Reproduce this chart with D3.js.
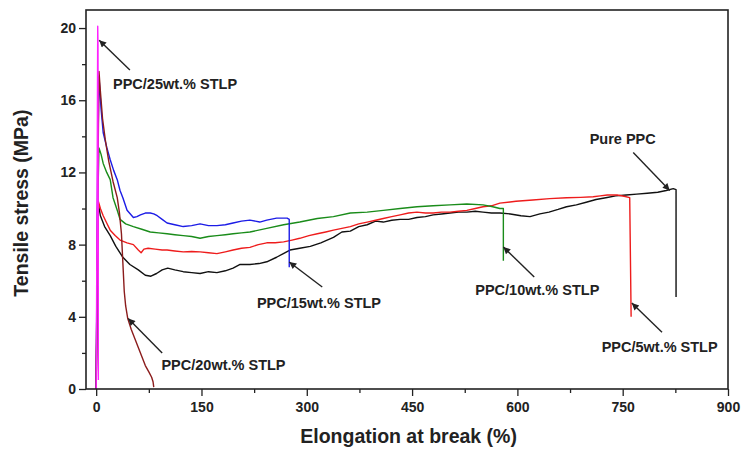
<!DOCTYPE html>
<html>
<head>
<meta charset="utf-8">
<script src="https://cdn.jsdelivr.net/npm/d3@7"></script>
<style>
  body { margin: 0; background: #fff; }
  svg text { font-family: "Liberation Sans", Arial, sans-serif; font-weight: bold; fill: #222; }
</style>
</head>
<body>
<svg id="svg" width="742" height="455"></svg>
<script>
// stress-strain curves, [elongation %, stress MPa]
const purePPC = [[0,0],[3,10.3],[6,9.6],[12,9.0],[20,8.5],[28,7.9],[38,7.3],[48,6.9],[60,6.6],[70,6.3],[78,6.25],[86,6.4],[94,6.6],[102,6.7],[112,6.6],[124,6.5],[136,6.45],[148,6.4],[160,6.5],[172,6.45],[184,6.55],[195,6.7],[205,6.9],[219,6.9],[232,6.95],[243,7.05],[257,7.3],[276,7.7],[290,7.8],[305,7.9],[320,8.1],[338,8.4],[350,8.7],[362,8.75],[374,9.0],[386,9.1],[398,9.3],[409,9.25],[421,9.35],[433,9.4],[445,9.4],[457,9.5],[469,9.55],[480,9.65],[492,9.7],[504,9.75],[516,9.8],[528,9.8],[540,9.85],[551,9.8],[563,9.75],[575,9.75],[590,9.7],[605,9.6],[618,9.55],[632,9.7],[645,9.8],[658,9.95],[670,10.1],[684,10.2],[698,10.35],[712,10.5],[726,10.6],[740,10.7],[755,10.75],[770,10.8],[785,10.85],[800,10.9],[812,11.0],[822,11.1],[826,11.05],[826,5.1]];
const stlp5 = [[0,0],[3,10.4],[6,10.0],[10,9.6],[15,9.2],[20,8.8],[27,8.5],[34,8.25],[44,8.1],[53,8.0],[60,7.7],[64,7.55],[68,7.75],[74,7.8],[84,7.75],[94,7.7],[101,7.7],[112,7.65],[124,7.6],[136,7.62],[148,7.6],[160,7.55],[172,7.5],[184,7.6],[195,7.7],[207,7.8],[219,7.85],[231,8.0],[243,8.1],[255,8.1],[267,8.15],[279,8.25],[290,8.35],[303,8.5],[315,8.6],[327,8.7],[338,8.8],[350,8.9],[362,9.0],[374,9.15],[386,9.25],[398,9.35],[409,9.45],[421,9.55],[433,9.65],[445,9.75],[457,9.8],[469,9.75],[480,9.75],[492,9.8],[504,9.8],[516,9.85],[528,9.9],[540,10.0],[551,10.1],[563,10.15],[575,10.3],[598,10.4],[622,10.47],[646,10.55],[670,10.6],[690,10.62],[708,10.65],[718,10.7],[728,10.75],[742,10.75],[752,10.68],[760,10.6],[762,4.0]];
const stlp10 = [[0,0],[2,10],[4,13.35],[7,13.0],[10,12.5],[15,12.0],[20,11.6],[24,10.6],[30,9.9],[34,9.4],[42,9.15],[53,9.0],[65,8.85],[77,8.7],[89,8.65],[101,8.6],[112,8.55],[124,8.5],[136,8.45],[148,8.35],[160,8.45],[172,8.5],[184,8.55],[195,8.6],[207,8.65],[219,8.7],[243,8.9],[267,9.1],[290,9.25],[315,9.45],[338,9.55],[362,9.75],[386,9.8],[409,9.9],[433,10.0],[457,10.1],[480,10.15],[504,10.2],[528,10.25],[551,10.2],[565,10.1],[575,10.0],[580,10.0],[580,7.1]];
const stlp15 = [[0,0],[2,12],[4,17.3],[7,15.5],[10,14.2],[15,13.4],[20,12.7],[25,12.1],[30,11.6],[34,11.0],[38,10.6],[44,9.9],[53,9.5],[58,9.55],[63,9.65],[70,9.75],[77,9.75],[82,9.7],[87,9.6],[94,9.4],[101,9.2],[112,9.1],[124,9.0],[136,9.05],[148,9.15],[160,9.05],[172,9.05],[184,9.1],[195,9.2],[207,9.3],[219,9.36],[233,9.25],[243,9.36],[257,9.47],[272,9.47],[275,9.4],[275,6.75]];
const stlp20 = [[0,0],[2,10],[4,17.6],[6,16.5],[9,15.0],[13,13.8],[18,12.6],[24,11.5],[30,10.6],[33,9.8],[36,8.6],[38,7.0],[40,5.4],[42,4.6],[45,3.9],[50,3.3],[55,2.8],[60,2.3],[65,1.8],[70,1.3],[75,0.95],[79,0.65],[81,0.4],[82,0.1]];
const stlp25 = [[0,0],[1.2,10],[2.2,20.1],[2.6,19],[2.9,10],[3.1,0.5]];

const seriesNames = ["Pure PPC","PPC/5wt.% STLP","PPC/10wt.% STLP","PPC/15wt.% STLP","PPC/20wt.% STLP","PPC/25wt.% STLP"];
const seriesData = [purePPC, stlp5, stlp10, stlp15, stlp20, stlp25];
const seriesColors = ["#111111","#ee1c1c","#1a8c1a","#1c1ce6","#8b1c1c","#ff22ff"];

// annotations: label position, arrow tail, arrow tip (data units)
const annLabel = [[750,13.6],[720,2.05],[540,5.2],[229,4.5],[93,1.05],[24,16.6]];
const annAnchor = ["middle","start","start","start","start","start"];
const annTail = [[765,13.1],[806,3.15],[624,6.2],[322,5.65],[94,2.0],[48,17.67]];
const annTip = [[817,11.0],[763,4.76],[580,7.87],[275,7.04],[45.6,3.9],[4.3,19.33]];

const xTicks = [0,150,300,450,600,750,900];
const xMinor = [75,225,375,525,675,825];
const yTicks = [0,4,8,12,16,20];
const yMinor = [2,6,10,14,18];

const W = 742, H = 455;
const m = {left:86, right:14, top:10, bottom:66};
const iw = W - m.left - m.right, ih = H - m.top - m.bottom;

const svg = d3.select("#svg");
const x = d3.scaleLinear().domain([-14.5, 900]).range([0, iw]);
const y = d3.scaleLinear().domain([0, 21]).range([ih, 0]);

const g = svg.append("g").attr("transform", `translate(${m.left},${m.top})`);

svg.append("defs").append("marker")
   .attr("id","arr").attr("viewBox","0 0 10 10")
   .attr("refX",10).attr("refY",5)
   .attr("markerWidth",9).attr("markerHeight",7)
   .attr("markerUnits","userSpaceOnUse")
   .attr("orient","auto")
   .append("path").attr("d","M0,0L10,5L0,10z").attr("fill","#222");

// axes
g.append("g").attr("transform",`translate(0,${ih})`)
   .call(d3.axisBottom(x).tickValues(xTicks).tickSize(7).tickPadding(6).tickFormat(d3.format("d")));
g.append("g").attr("transform",`translate(0,${ih})`)
   .call(d3.axisBottom(x).tickValues(xMinor).tickSize(4).tickFormat(""));
g.append("g")
   .call(d3.axisLeft(y).tickValues(yTicks).tickSize(7).tickPadding(3).tickFormat(d3.format("d")));
g.append("g").call(d3.axisLeft(y).tickValues(yMinor).tickSize(4).tickFormat(""));

g.selectAll(".domain").remove();
g.selectAll(".tick line").attr("stroke","#222").attr("stroke-width",1.3);
g.selectAll(".tick text").style("font-size","14px").style("font-family","'Liberation Sans', Arial, sans-serif").style("font-weight","bold").attr("fill","#222");

// curves
const line = d3.line().x(d => x(d[0])).y(d => y(d[1]));
g.selectAll(".curve").data(seriesData).enter().append("path")
   .attr("class","curve")
   .attr("d", line)
   .attr("fill","none")
   .attr("stroke",(d,i) => seriesColors[i])
   .attr("stroke-width",1.4)
   .attr("stroke-linejoin","round");

// frame
g.append("rect").attr("width",iw).attr("height",ih)
   .attr("fill","none").attr("stroke","#222").attr("stroke-width",1.6);

// annotations
seriesNames.forEach((name,i) => {
  g.append("line")
   .attr("x1",x(annTail[i][0])).attr("y1",y(annTail[i][1]))
   .attr("x2",x(annTip[i][0])).attr("y2",y(annTip[i][1]))
   .attr("stroke","#222").attr("stroke-width",1.4)
   .attr("marker-end","url(#arr)");
  g.append("text")
   .attr("x",x(annLabel[i][0])).attr("y",y(annLabel[i][1]))
   .attr("text-anchor",annAnchor[i])
   .style("font-size","14.5px")
   .text(name);
});

// axis titles
svg.append("text")
   .attr("x", m.left + x(445)).attr("y", 443)
   .attr("text-anchor","middle").style("font-size","19.5px")
   .text("Elongation at break (%)");
svg.append("text")
   .attr("transform",`translate(28,${m.top + y(10.3)}) rotate(-90)`)
   .attr("text-anchor","middle").style("font-size","19.5px")
   .text("Tensile stress (MPa)");
</script>
</body>
</html>
